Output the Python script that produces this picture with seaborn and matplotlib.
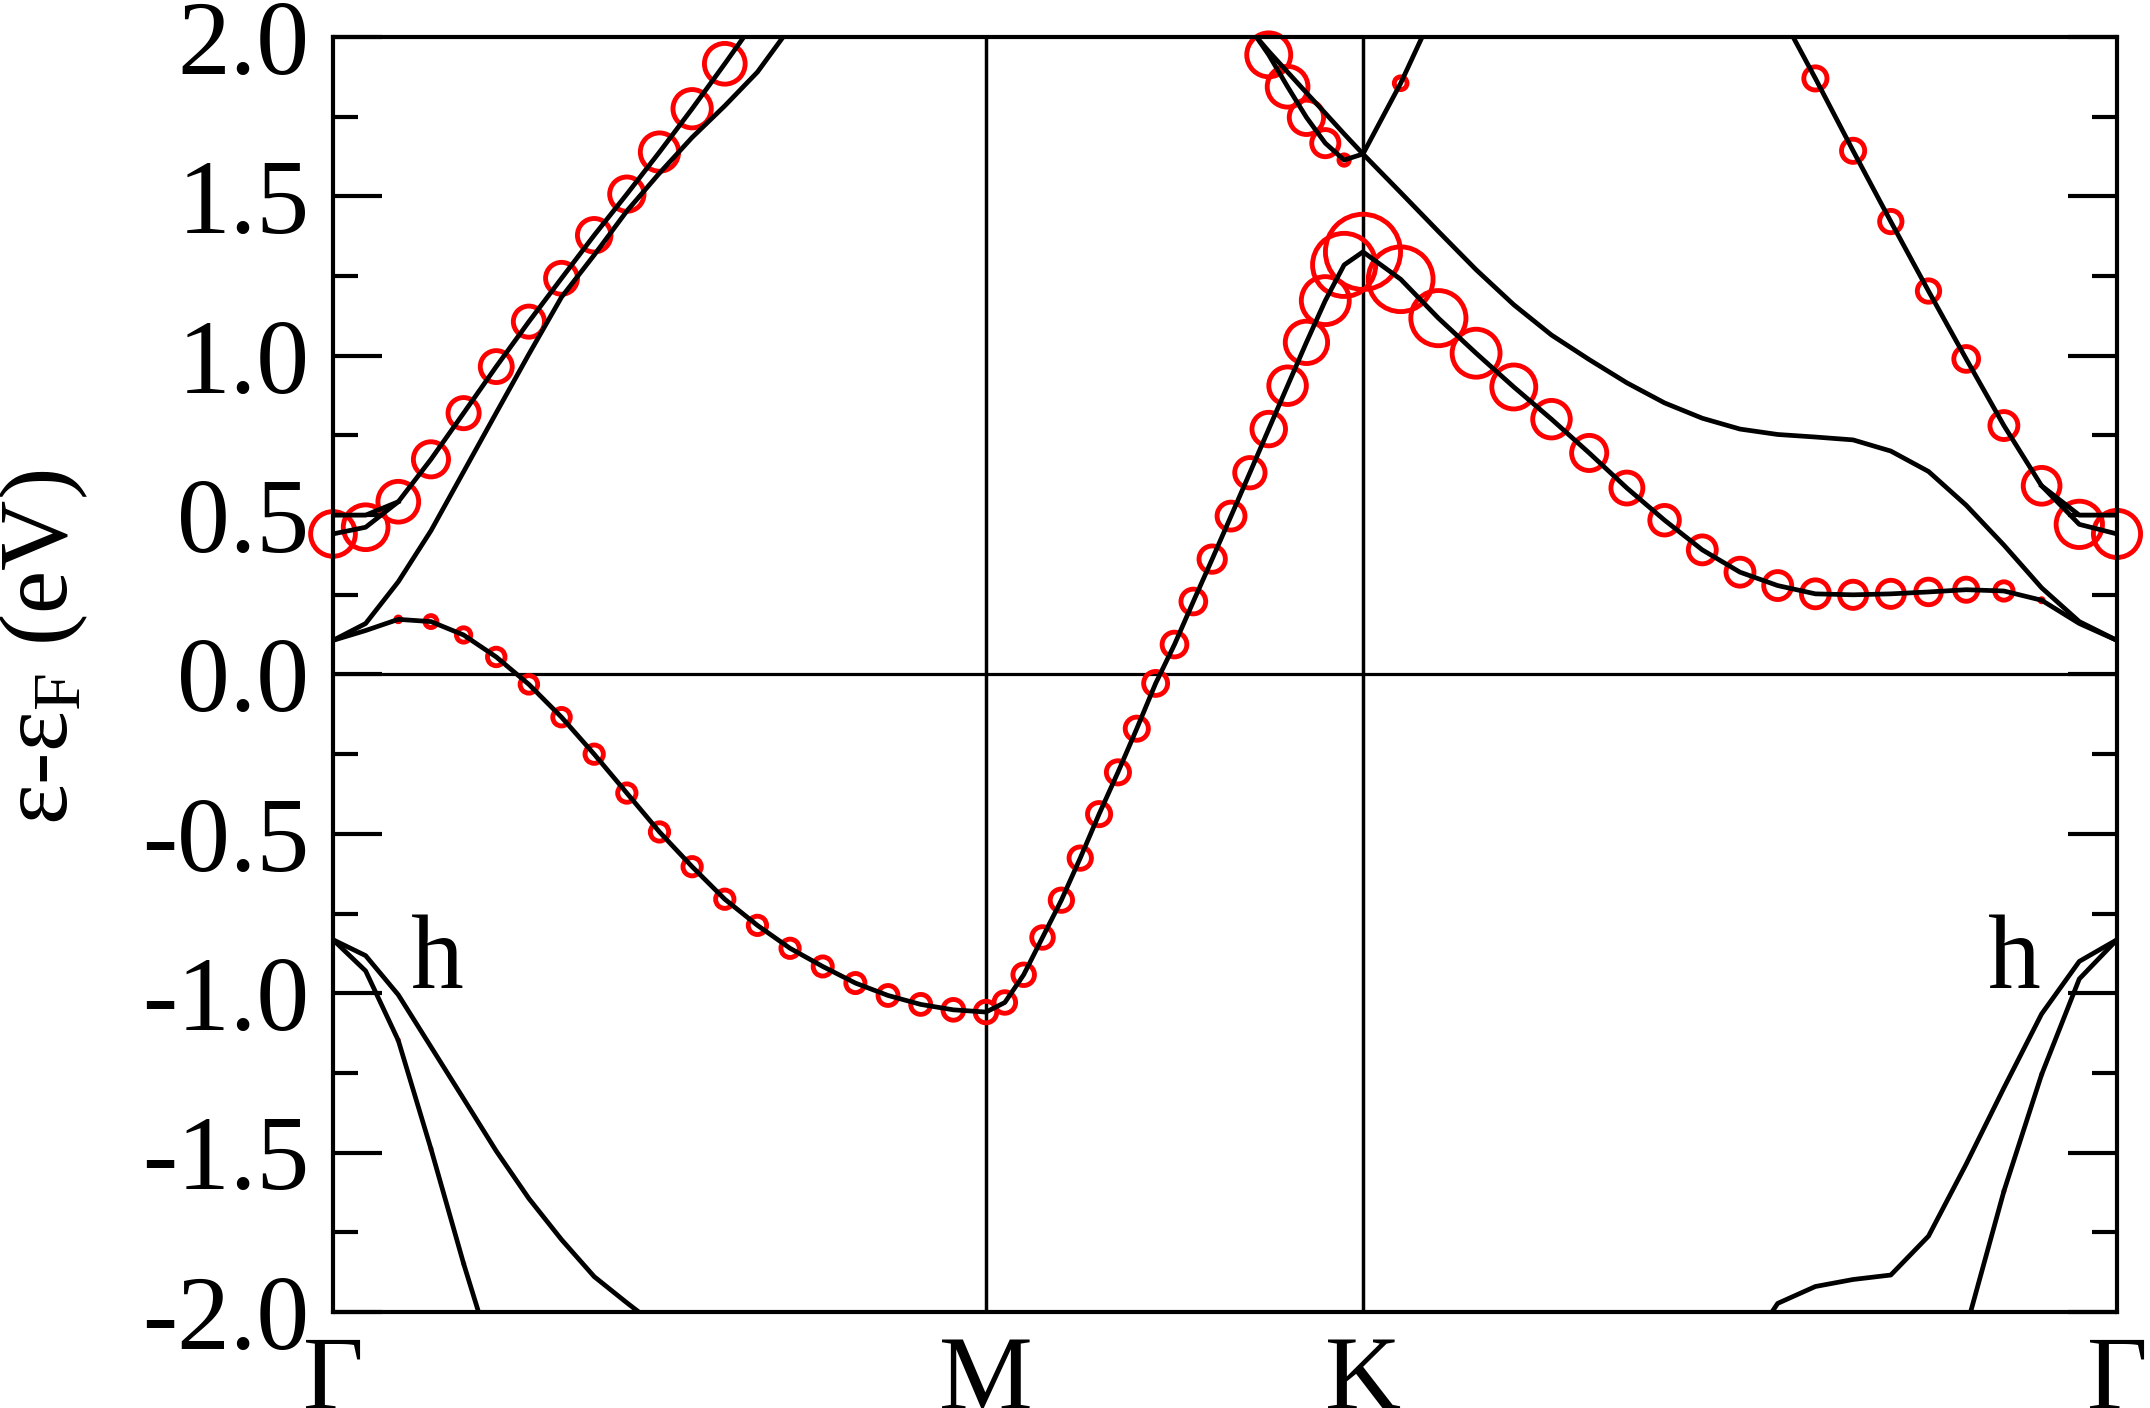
import numpy as np
import pandas as pd
import seaborn as sns
import matplotlib
matplotlib.use("Agg")
import matplotlib.pyplot as plt
from matplotlib.ticker import MultipleLocator, FormatStrFormatter

# k-path Gamma-M-K-Gamma, segment lengths (2pi/a), 20 steps per segment
seg_len = [0.866, 0.5, 1.0]
n_step = 20
sym_labels = ["Γ", "M", "K", "Γ"]

# band energies (eV); start = index on the 61-point path
# (0-20 Gamma-M, 20-40 M-K, 40-60 K-Gamma), weights = size of the red circles
band_c = [0.107, 0.138, 0.173, 0.166, 0.124, 0.055, -0.031, -0.134, -0.250, -0.372,
          -0.494, -0.603, -0.705, -0.787, -0.859, -0.916, -0.968, -1.007, -1.035, -1.052,
          -1.059, -1.029, -0.942, -0.825, -0.708, -0.576, -0.438, -0.307, -0.170, -0.028,
          0.094, 0.229, 0.362, 0.497, 0.633, 0.770, 0.906, 1.042, 1.173, 1.285,
          1.326, 1.240, 1.118, 1.008, 0.902, 0.801, 0.695, 0.585, 0.484, 0.391,
          0.321, 0.279, 0.253, 0.250, 0.253, 0.259, 0.266, 0.262, 0.233, 0.160, 0.107]
w_c = [0, 0, 0.12, 0.21, 0.24, 0.28, 0.28, 0.28, 0.29, 0.29,
       0.29, 0.29, 0.29, 0.29, 0.29, 0.30, 0.30, 0.31, 0.31, 0.32,
       0.33, 0.33, 0.33, 0.33, 0.34, 0.34, 0.35, 0.35, 0.35, 0.36,
       0.37, 0.37, 0.39, 0.41, 0.44, 0.48, 0.53, 0.59, 0.66, 0.85,
       1.00, 0.87, 0.75, 0.66, 0.61, 0.53, 0.50, 0.46, 0.43, 0.41,
       0.41, 0.41, 0.41, 0.40, 0.40, 0.38, 0.35, 0.29, 0.10, 0, 0]

band_a = [0.441, 0.462, 0.542, 0.675, 0.820, 0.966, 1.107, 1.243, 1.378, 1.507,
          1.639, 1.775, 1.916, 2.06, 2.20]
w_a = [0.62, 0.62, 0.57, 0.50, 0.45, 0.46, 0.45, 0.46, 0.48, 0.49,
       0.54, 0.54, 0.57, 0, 0]
band_a2 = [0.500, 0.500, 0.542]

band_b1 = [0.107, 0.160, 0.291, 0.451, 0.636, 0.821, 1.005, 1.184, 1.316, 1.454,
           1.573, 1.685, 1.784, 1.890, 2.03, 2.17]
band_b2 = [2.09, 2.024, 1.955, 1.890, 1.825, 1.761, 1.696, 1.633,
           1.512, 1.390, 1.270, 1.160, 1.065, 0.988, 0.915, 0.852, 0.804, 0.770,
           0.753, 0.745, 0.736, 0.701, 0.637, 0.531, 0.406, 0.272, 0.166, 0.107]

band_d = [2.12, 2.03, 1.944, 1.844, 1.748, 1.667, 1.614, 1.633, 1.855, 2.11]
w_d = [0, 0, 0.61, 0.57, 0.49, 0.40, 0.19, 0, 0.22, 0]

band_e = [2.09, 1.870, 1.643, 1.421, 1.203, 0.990, 0.781, 0.592, 0.471, 0.441]
w_e = [0, 0.35, 0.35, 0.34, 0.34, 0.37, 0.41, 0.52, 0.64, 0.65]
band_e2 = [0.592, 0.500, 0.500]

h1_left = [-0.832, -0.930, -1.148, -1.488, -1.848, -2.18]
w_h1_left = [0, 0, 0.04, 0.04, 0.04, 0]
h2_left = [-0.832, -0.882, -1.005, -1.168, -1.331, -1.495, -1.644, -1.773, -1.889,
           -1.971, -2.05]
h1_right = [-2.40, -2.05, -1.621, -1.255, -0.955, -0.832]
w_h1_right = [0, 0, 0.04, 0.04, 0, 0]
h2_right = [-2.15, -1.973, -1.920, -1.898, -1.884, -1.762, -1.536, -1.297, -1.065,
            -0.900, -0.832]

bands = [
    (0, band_c, w_c),
    (0, band_a, w_a),
    (0, band_a2, None),
    (0, band_b1, None),
    (33, band_b2, None),
    (33, band_d, w_d),
    (51, band_e, w_e),
    (58, band_e2, None),
    (0, h1_left, w_h1_left),
    (0, h2_left, None),
    (55, h1_right, w_h1_right),
    (50, h2_right, None),
]

sym_pos = np.concatenate([[0], np.cumsum(seg_len)])
kpath = np.concatenate(
    [np.linspace(sym_pos[i], sym_pos[i + 1], n_step + 1)[:-1] for i in range(3)]
    + [[sym_pos[-1]]])

plt.rcParams['font.family'] = ['Liberation Serif', 'DejaVu Serif']
plt.rcParams['mathtext.fontset'] = 'custom'
plt.rcParams['mathtext.rm'] = 'Liberation Serif'
plt.rcParams['mathtext.it'] = 'Liberation Serif:italic'
plt.rcParams['axes.unicode_minus'] = False

fig = plt.figure(figsize=(21.5, 14.08), dpi=100)
ax = fig.add_axes([333 / 2150, 1 - 1312 / 1408, 1784 / 2150, 1275 / 1408])

ring_lw = 3.5
rows = []
for start, en, w in bands:
    xs = kpath[start:start + len(en)]
    sns.lineplot(x=xs, y=en, sort=False, estimator=None, color='black',
                 lw=3.4, ax=ax, zorder=3)
    if w is not None:
        for x, e, ww in zip(xs, en, w):
            if ww > 0:
                d_pt = max(ww * 80 / 1.389 - ring_lw, 0.3)
                rows.append((x, e, d_pt ** 2))

circ = pd.DataFrame(rows, columns=['k', 'E', 'area'])
amin, amax = circ['area'].min(), circ['area'].max()
sns.scatterplot(data=circ, x='k', y='E', size='area', sizes=(amin, amax),
                size_norm=(amin, amax), legend=False, marker='o',
                facecolors='none', edgecolor='red', linewidth=ring_lw,
                clip_on=False, zorder=2, ax=ax)

ax.axhline(0, color='black', lw=2.3, zorder=1)
for p in sym_pos[1:-1]:
    ax.axvline(p, color='black', lw=2.5, zorder=1)

ax.set_xlim(sym_pos[0], sym_pos[-1])
ax.set_ylim(-2, 2)
ax.set_xticks(sym_pos)
ax.set_xticklabels(sym_labels)
ax.yaxis.set_major_locator(MultipleLocator(0.5))
ax.yaxis.set_minor_locator(MultipleLocator(0.25))
ax.yaxis.set_major_formatter(FormatStrFormatter('%.1f'))
ax.tick_params(axis='x', length=0, pad=17, labelsize=76)
ax.tick_params(axis='y', which='both', direction='in', left=True, right=True,
               width=3.0, labelsize=76, pad=17)
ax.tick_params(axis='y', which='major', length=35)
ax.tick_params(axis='y', which='minor', length=18)
for s in ax.spines.values():
    s.set_linewidth(3.0)
    s.set_zorder(10)

ax.set_xlabel('')
ax.set_ylabel('ε-ε$_\\mathrm{F}$ (eV)', fontsize=70)
ax.yaxis.set_label_coords(-0.136, 0.521)

ax.text(0.138, -0.984, 'h', fontsize=76, ha='center', va='baseline')
ax.text(2.230, -0.984, 'h', fontsize=76, ha='center', va='baseline')

fig.savefig('out.png', dpi=100)
